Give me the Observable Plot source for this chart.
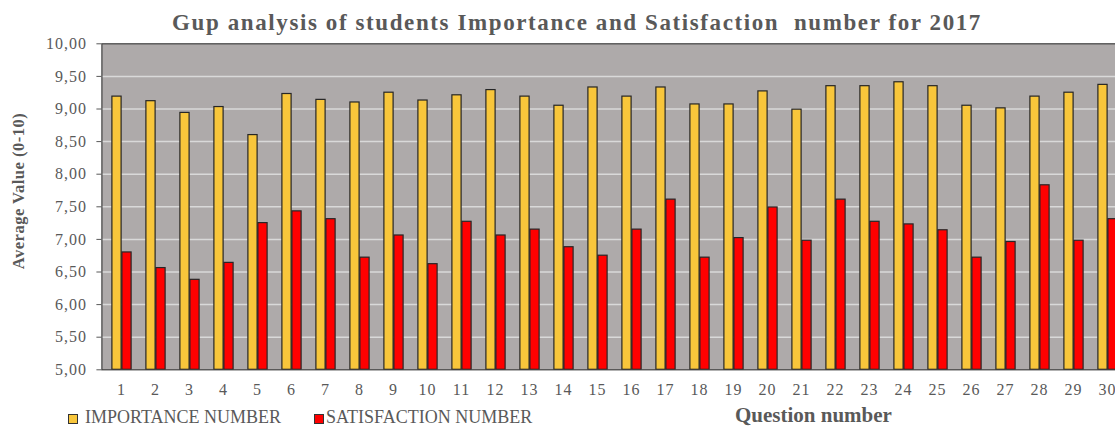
<!DOCTYPE html>
<html>
<head>
<meta charset="utf-8">
<script src="https://cdn.jsdelivr.net/npm/d3@7"></script>
<script src="https://cdn.jsdelivr.net/npm/@observablehq/plot@0.6"></script>
<style>
  body { margin:0; width:1115px; height:426px; overflow:hidden; position:relative; background:#fff; font-family:"Liberation Serif", serif; color:#595959; }
  .abs { position:absolute; white-space:nowrap; }
  #chart { position:absolute; left:0; top:0; width:1130px; }
  #chart svg text { font-family:"Liberation Serif", serif !important; font-size:16px !important; fill:#595959; letter-spacing:1px; }
  .sw { position:absolute; width:8px; height:8px; border:1px solid #333; }
</style>
</head>
<body>
<div class="abs" id="title" style="left:577px; top:10.5px; transform:translateX(-50%); font-size:23px; line-height:23px; font-weight:bold; letter-spacing:1.6px;">Gup analysis of students Importance and Satisfaction&nbsp; number for 2017</div>
<div id="chart"></div>
<div class="abs" id="ylabel" style="left:18.5px; top:191px; transform:translate(-50%,-50%) rotate(-90deg); font-size:16.5px; line-height:16.5px; font-weight:bold; letter-spacing:0.5px;">Average Value (0-10)</div>
<div class="sw" style="left:68px; top:414px; background:#F8C63B;"></div>
<div class="abs" style="left:85px; top:407.5px; font-size:18px; line-height:18px; letter-spacing:0px;">IMPORTANCE NUMBER</div>
<div class="sw" style="left:314px; top:414px; background:#FF0000;"></div>
<div class="abs" style="left:326px; top:407.5px; font-size:18px; line-height:18px; letter-spacing:0px;">SATISFACTION NUMBER</div>
<div class="abs" style="left:735px; top:405px; font-size:21px; line-height:21px; font-weight:bold;">Question number</div>
<script>
const questions = ["1","2","3","4","5","6","7","8","9","10","11","12","13","14","15","16","17","18","19","20","21","22","23","24","25","26","27","28","29","30"];
const importance = [9.19, 9.12, 8.94, 9.03, 8.60, 9.23, 9.14, 9.10, 9.25, 9.13, 9.21, 9.29, 9.19, 9.05, 9.33, 9.19, 9.33, 9.07, 9.07, 9.27, 8.99, 9.35, 9.35, 9.41, 9.35, 9.05, 9.01, 9.19, 9.25, 9.37];
const satisfaction = [6.80, 6.56, 6.38, 6.64, 7.25, 7.43, 7.31, 6.72, 7.06, 6.62, 7.27, 7.06, 7.15, 6.88, 6.75, 7.15, 7.61, 6.72, 7.02, 7.49, 6.98, 7.61, 7.27, 7.23, 7.14, 6.72, 6.96, 7.83, 6.98, 7.31];
const yTicks = [5, 5.5, 6, 6.5, 7, 7.5, 8, 8.5, 9, 9.5, 10];
const gridTicks = [5.5, 6, 6.5, 7, 7.5, 8, 8.5, 9, 9.5];
const yBase = 5;

const table = questions.map((q, i) => ({q, imp: importance[i], sat: satisfaction[i]}));

const chart = Plot.plot({
  width: 1130,
  height: 400,
  marginLeft: 101.4,
  marginRight: 2.6,
  marginTop: 43.3,
  marginBottom: 30.7,
  style: {fontFamily: "'Liberation Serif', serif", fontSize: "16px", color: "#595959", background: "transparent", overflow: "visible", maxWidth: "none"},
  x: {type: "band", domain: questions, padding: 0, tickSize: 0, tickPadding: 14, label: null},
  y: {domain: [5, 10], ticks: yTicks, tickFormat: d => d.toFixed(2).replace(".", ","), tickSize: 5, tickPadding: 10, label: null},
  marks: [
    Plot.frame({fill: "#AEAAAA"}),
    Plot.ruleY(gridTicks, {stroke: "#D9D9D9", strokeWidth: 1.5}),
    Plot.barY(table, {x: "q", y1: yBase, y2: "imp", fill: "#F8C63B", stroke: "#262626", strokeWidth: 1.2, insetLeft: 7.9, insetRight: 16.9}),
    Plot.barY(table, {x: "q", y1: yBase, y2: "sat", fill: "#FF0000", stroke: "#262626", strokeWidth: 1.2, insetLeft: 17.9, insetRight: 6.9}),
    Plot.frame({stroke: "#404040", strokeWidth: 1.2})
  ]
});
chart.style.maxWidth = "none";
document.getElementById("chart").appendChild(chart);
chart.querySelectorAll("g[aria-label$='axis'], g[aria-label*='tick label']").forEach(g => { g.setAttribute("font-family", "Liberation Serif"); });
</script>
</body>
</html>
